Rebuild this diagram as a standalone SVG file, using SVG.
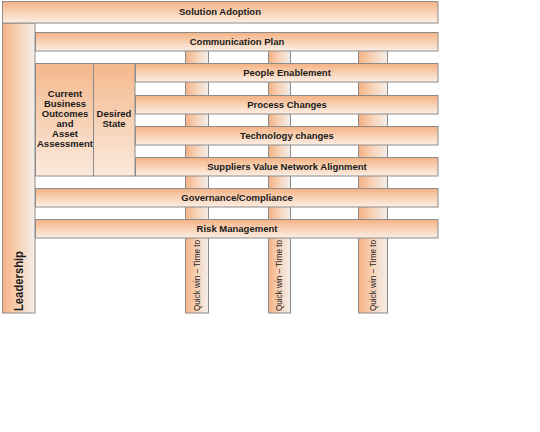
<svg xmlns="http://www.w3.org/2000/svg" width="540" height="432" viewBox="0 0 540 432">
<defs>
<linearGradient id="gh" x1="0" y1="0" x2="0" y2="1">
<stop offset="0" stop-color="#F4B183"/>
<stop offset="0.5" stop-color="#F8D2B6"/>
<stop offset="1" stop-color="#FCEEE4"/>
</linearGradient>
<linearGradient id="gv" x1="0" y1="0" x2="1" y2="0">
<stop offset="0" stop-color="#F4B183"/>
<stop offset="0.5" stop-color="#F8D4BA"/>
<stop offset="1" stop-color="#F3EEEA"/>
</linearGradient>
<linearGradient id="gb" x1="0" y1="0" x2="0" y2="1">
<stop offset="0" stop-color="#F4B88D"/>
<stop offset="0.6" stop-color="#F8D6BD"/>
<stop offset="1" stop-color="#FBE9DC"/>
</linearGradient>
</defs>
<style>
.bar{fill:url(#gh);stroke:#8C8C8C;stroke-width:1}
.col{fill:url(#gv);stroke:#8C8C8C;stroke-width:1}
.box{fill:url(#gb);stroke:#8C8C8C;stroke-width:1}
.t{font-family:"Liberation Sans",Arial,sans-serif;font-weight:bold;font-size:9.5px;fill:#1A1A1A;text-anchor:middle}
.q{font-family:"Liberation Sans",Arial,sans-serif;font-size:9.5px;fill:#1A1A1A}
.l{font-family:"Liberation Sans",Arial,sans-serif;font-weight:bold;font-size:13.5px;fill:#1A1A1A}
</style>
<rect width="540" height="432" fill="#FFFFFF"/>
<g id="connectors"></g>
<g id="col1"><rect class="col" x="185.5" y="40" width="23" height="273"/><text class="q" transform="translate(200,311) rotate(-90)" textLength="71" lengthAdjust="spacingAndGlyphs">Quick win – Time to</text></g>
<g id="col2"><rect class="col" x="268.5" y="40" width="22" height="273"/><text class="q" transform="translate(282,311) rotate(-90)" textLength="71" lengthAdjust="spacingAndGlyphs">Quick win – Time to</text></g>
<g id="col3"><rect class="col" x="358.5" y="40" width="29" height="273"/><text class="q" transform="translate(376,311) rotate(-90)" textLength="71" lengthAdjust="spacingAndGlyphs">Quick win – Time to</text></g>
<g id="leadership"><rect class="col" x="2.5" y="23" width="32.5" height="290"/><text class="l" transform="translate(23,311) rotate(-90)" textLength="60" lengthAdjust="spacingAndGlyphs">Leadership</text></g>
<g id="solution-adoption"><rect class="bar" x="2.5" y="1.5" width="435.5" height="21.5"/><text class="t" x="220" y="15">Solution Adoption</text></g>
<g id="communication-plan"><rect class="bar" x="35.5" y="32.5" width="402.5" height="18.5"/><text class="t" x="237" y="44.5">Communication Plan</text></g>
<g id="current-business"><rect class="box" x="35.5" y="63.5" width="58" height="112.5"/>
<text class="t" x="65" y="97">Current</text><text class="t" x="65" y="107">Business</text><text class="t" x="65" y="117">Outcomes</text><text class="t" x="65" y="127">and</text><text class="t" x="65" y="137">Asset</text><text class="t" x="65" y="147">Assessment</text></g>
<g id="desired-state"><rect class="box" x="93.5" y="63.5" width="41.5" height="112.5"/><text class="t" x="114" y="116.5">Desired</text><text class="t" x="114" y="126.5">State</text></g>
<g id="people-enablement"><rect class="bar" x="135.5" y="63.5" width="302.5" height="18.5"/><text class="t" x="287" y="75.5">People Enablement</text></g>
<g id="process-changes"><rect class="bar" x="135.5" y="95.5" width="302.5" height="18.5"/><text class="t" x="287" y="107.5">Process Changes</text></g>
<g id="technology-changes"><rect class="bar" x="135.5" y="126.5" width="302.5" height="18.5"/><text class="t" x="287" y="138.5">Technology changes</text></g>
<g id="suppliers"><rect class="bar" x="135.5" y="157.5" width="302.5" height="18.5"/><text class="t" x="287" y="169.5">Suppliers Value Network Alignment</text></g>
<g id="governance"><rect class="bar" x="35.5" y="188.5" width="402.5" height="18.5"/><text class="t" x="237" y="200.5">Governance/Compliance</text></g>
<g id="risk-management"><rect class="bar" x="35.5" y="219.5" width="402.5" height="18.5"/><text class="t" x="237" y="232">Risk Management</text></g>
</svg>
